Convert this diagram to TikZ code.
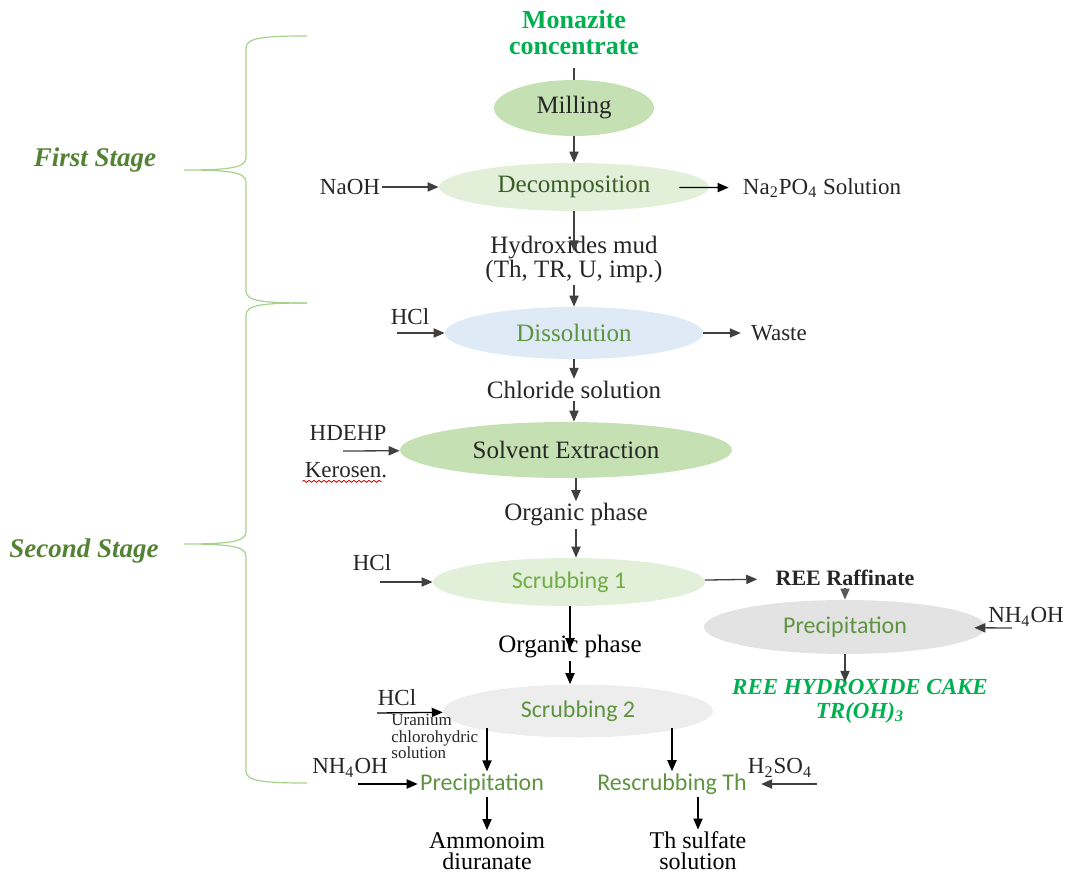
\documentclass[tikz,border=0pt]{standalone}
\usepackage{fontspec}
\setmainfont{Liberation Serif}
\newfontfamily\carlito{Carlito}
\usetikzlibrary{arrows.meta}
\usetikzlibrary{shapes.geometric}
\usetikzlibrary{decorations.pathmorphing}
\definecolor{millgreen}{HTML}{C5E0B3}
\definecolor{palegreen}{HTML}{E2EFD9}
\definecolor{paleblue}{HTML}{DEEAF6}
\definecolor{palegrey}{HTML}{E4E3E3}
\definecolor{lightgrey}{HTML}{EDEDED}
\definecolor{bracegreen}{HTML}{A9D18E}
\definecolor{stagegreen}{HTML}{548235}
\definecolor{darkgreen}{HTML}{3B5D27}
\definecolor{midgreen}{HTML}{5E9440}
\definecolor{softgreen}{HTML}{70AD47}
\definecolor{brightgreen}{HTML}{00B050}
\definecolor{ink}{HTML}{262626}
\definecolor{arrowgrey}{HTML}{404040}

\begin{document}
\begin{tikzpicture}[x=0.5pt,y=-0.5pt,
  flow/.style={draw=arrowgrey,line width=0.65pt,-{Triangle[length=5.5pt,width=4.6pt]}},
  proc/.style={ellipse,draw=none,inner sep=0pt},
  txt/.style={text=ink,inner sep=1pt,font=\fontsize{12.5}{12}\selectfont,align=center},
  side/.style={text=ink,inner sep=1pt,font=\fontsize{11.5}{12}\selectfont},
  calib/.style={inner sep=1pt,font=\carlito\fontsize{12}{14}\selectfont,text=midgreen},
  stage/.style={text=stagegreen,font=\bfseries\itshape\fontsize{13.5}{16}\selectfont}]
\useasboundingbox (0,0) rectangle (1065,876);

\foreach \t/\m/\b in {36/170/303, 303/544/783}
  \draw[bracegreen,line width=0.6pt] (307,\t) .. controls (262,\t) and (246,\t+2) .. (246,\t+12)
    -- (246,\m-12) .. controls (246,\m-2) and (228,\m) .. (184,\m)
    .. controls (228,\m) and (246,\m+2) .. (246,\m+12)
    -- (246,\b-12) .. controls (246,\b-2) and (262,\b) .. (307,\b);
\node[stage] (first) at (95,160) {First Stage};
\node[stage] (second) at (84,551) {Second Stage};

\node[text=brightgreen,font=\bfseries\fontsize{13}{13}\selectfont,align=center] (monaz) at (574,33) {Monazite\\concentrate};
\node[proc,fill=millgreen,minimum width=80pt,minimum height=28pt,txt] (mill) at (574,108) {Milling};
\draw[arrowgrey,line width=0.65pt,shorten <=3pt] (monaz) -- (mill);

\node[proc,fill=palegreen,minimum width=135pt,minimum height=24pt,txt,text=darkgreen] (decomp) at (574,187) {Decomposition};
\node[side] (naoh) at (350,187) {NaOH};
\node[side] (napo) at (822,188) {Na\textsubscript{2}PO\textsubscript{4} Solution};
\draw[flow] (mill) -- (decomp);
\draw[flow] (naoh) -- (decomp);
\draw[flow,draw=black,shorten <=-15pt,shorten >=6pt] (decomp) -- (napo);

\node[txt] (hyd) at (574,259) {Hydroxides mud\\(Th, TR, U, imp.)};
\draw[flow,shorten >=-9pt] (decomp) -- (hyd);

\node[proc,fill=paleblue,minimum width=129pt,minimum height=26pt,txt,text=midgreen] (diss) at (574,333) {Dissolution};
\node[side] (hcla) at (410,317) {HCl};
\coordinate (hclain) at (397,333);
\node[side] (waste) at (779,333) {Waste};
\draw[flow] (hyd) -- (diss);
\draw[flow] (hclain) -- (diss);
\draw[flow,shorten >=4pt] (diss) -- (waste);

\node[txt] (chl) at (574,390) {Chloride solution};
\draw[flow] (diss) -- (chl);

\node[proc,fill=millgreen,minimum width=166pt,minimum height=28pt,txt] (solv) at (566,450) {Solvent Extraction};
\node[side] (hdehp) at (348,433) {HDEHP};
\node[side] (kero) at (346,470) {Kerosen.};
\coordinate (solvin) at (343,451);
\draw[red!80!black,line width=0.4pt,decorate,decoration={snake,amplitude=0.5pt,segment length=2.5pt}]
  ([yshift=-2pt]kero.base west) -- ([yshift=-2pt,xshift=-4pt]kero.base east);
\draw[flow] (chl) -- (chl |- solv.north);
\draw[flow] (solvin) -- (solv);

\node[txt] (org1) at (576,515) {Organic phase};
\draw[flow] (org1 |- solv.south) -- (org1);

\node[proc,fill=palegreen,minimum width=136pt,minimum height=24pt,calib,text=softgreen] (scr1) at (569,582) {Scrubbing 1};
\node[side] (hclb) at (372,563) {HCl};
\coordinate (scr1in) at (380,582);
\draw[flow] (org1) -- (org1 |- scr1.north);
\draw[flow] (scr1in) -- (scr1);

\node[side,font=\bfseries\fontsize{11}{12}\selectfont] (raff) at (845,578) {REE Raffinate};
\draw[flow,shorten >=8pt] (scr1) -- (raff);

\node[proc,fill=palegrey,minimum width=141pt,minimum height=27pt,calib] (prec1) at (845,627) {Precipitation};
\node[side] (nha) at (1026,617) {NH\textsubscript{4}OH};
\coordinate (prec1in) at (1012,628);
\draw[flow,draw=black!65] (raff) -- (prec1);
\draw[flow,shorten >=-6pt] (prec1in) -- (prec1);

\node[text=brightgreen,font=\bfseries\itshape\fontsize{11.5}{12}\selectfont,align=center] (cake) at (860,701) {REE HYDROXIDE CAKE\\TR(OH)\textsubscript{3}};
\draw[flow,shorten >=-5pt] (prec1.south) -- (prec1.south |- cake.north);

\node[txt,text=black] (org2) at (570,647) {Organic phase};
\draw[flow,draw=black,shorten >=-8pt] (org2 |- scr1.south) -- (org2);

\node[proc,fill=lightgrey,minimum width=135pt,minimum height=26.5pt,calib] (scr2) at (578,711) {Scrubbing 2};
\node[side] (hclc) at (397,698) {HCl};
\coordinate (scr2in) at (377,713);
\node[text=ink,inner sep=0pt,font=\fontsize{8.5}{8.3}\selectfont,align=left,anchor=north west] (uran) at (391,714) {Uranium\\chlorohydric\\solution};
\draw[flow,draw=black] (org2) -- (org2 |- scr2.north);
\draw[flow,draw=black] (scr2in) -- (scr2);

\node[calib] (precl) at (482,784) {Precipitation};
\node[calib] (rescr) at (672,784) {Rescrubbing Th};
\node[side] (nhb) at (350,768) {NH\textsubscript{4}OH};
\node[side] (hso) at (780,768) {H\textsubscript{2}SO\textsubscript{4}};
\coordinate (preclin) at (358,784);
\coordinate (rescrin) at (817,784);
\draw[flow,draw=black,shorten <=-5pt] (scr2.south -| 487,0) -- (487,0 |- precl.north);
\draw[flow,draw=black,shorten <=-5pt] (scr2.south -| rescr) -- (rescr);
\draw[flow,draw=black] (preclin) -- (precl);
\draw[flow,shorten >=6pt] (rescrin) -- (rescr);

\node[txt,text=black,font=\fontsize{12}{10.5}\selectfont] (amm) at (487,851) {Ammonoim\\diuranate};
\node[txt,text=black,font=\fontsize{12}{10.5}\selectfont] (thsulf) at (698,851) {Th sulfate\\solution};
\draw[flow,draw=black] (amm |- precl.south) -- (amm);
\draw[flow,draw=black] (thsulf |- rescr.south) -- (thsulf);
\end{tikzpicture}
\end{document}
